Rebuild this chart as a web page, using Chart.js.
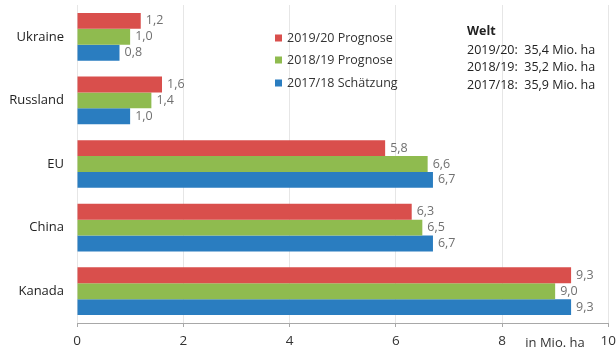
<!DOCTYPE html>
<html>
<head>
<meta charset="utf-8">
<script src="https://cdn.jsdelivr.net/npm/chart.js@4"></script>
<style>
  html, body { margin: 0; padding: 0; background: #fff; overflow: hidden; }
  #wrap { width: 622px; height: 354px; position: relative; }
</style>
</head>
<body>
<div id="wrap"><canvas id="chart"></canvas></div>
<script>
const countries = ["Ukraine", "Russland", "EU", "China", "Kanada"];
const seriesNames = ["2019/20 Prognose", "2018/19 Prognose", "2017/18 Schätzung"];
const values1920 = [1.2, 1.6, 5.8, 6.3, 9.3];
const values1819 = [1.0, 1.4, 6.6, 6.5, 9.0];
const values1718 = [0.8, 1.0, 6.7, 6.7, 9.3];
const xTicks = [0, 2, 4, 6, 8, 10];
const worldLines = ["2019/20:  35,4 Mio. ha", "2018/19:  35,2 Mio. ha", "2017/18:  35,9 Mio. ha"];

const colors = ["#d94f4c", "#8fbb4f", "#2a7dc0"];
const FONT = "'Open Sans', 'DejaVu Sans', sans-serif";

const valueLabels = {
  id: "valueLabels",
  afterDatasetsDraw(chart) {
    const ctx = chart.ctx;
    ctx.save();
    ctx.font = "12.5px " + FONT;
    ctx.fillStyle = "#707070";
    ctx.textAlign = "left";
    ctx.textBaseline = "middle";
    chart.data.datasets.forEach((ds, i) => {
      chart.getDatasetMeta(i).data.forEach((bar, j) => {
        const txt = ds.data[j].toFixed(1).replace(".", ",");
        ctx.fillText(txt, bar.x + 5, bar.y);
      });
    });
    ctx.restore();
  },
};

const extras = {
  id: "extras",
  afterDraw(chart) {
    const ctx = chart.ctx;
    ctx.save();
    // legend
    ctx.font = "12.5px " + FONT;
    ctx.textBaseline = "middle";
    ctx.textAlign = "left";
    const legendY = [38, 60, 83];
    seriesNames.forEach((name, i) => {
      ctx.fillStyle = colors[i];
      ctx.fillRect(275, legendY[i] - 3.5, 7, 7);
      ctx.fillStyle = "#333";
      ctx.fillText(name, 287, legendY[i]);
    });
    // world totals
    ctx.fillStyle = "#222";
    ctx.font = "bold 12.5px " + FONT;
    ctx.fillText("Welt", 467, 31);
    ctx.font = "12.5px " + FONT;
    worldLines.forEach((line, i) => {
      ctx.fillText(line, 467, 50 + i * 17.5);
    });
    // unit
    ctx.fillStyle = "#333";
    ctx.font = "13px " + FONT;
    ctx.textAlign = "center";
    ctx.fillText("in Mio. ha", 555, 343);
    ctx.restore();
  },
};

new Chart(document.getElementById("chart"), {
  type: "bar",
  data: {
    labels: countries,
    datasets: [values1920, values1819, values1718].map((d, i) => ({
      label: seriesNames[i],
      data: d,
      backgroundColor: colors[i],
      categoryPercentage: 0.75,
      barPercentage: 1.0,
    })),
  },
  options: {
    indexAxis: "y",
    responsive: true,
    maintainAspectRatio: false,
    animation: false,
    layout: { padding: { top: 5, left: 0, right: 0, bottom: 0 } },
    plugins: {
      legend: { display: false },
      tooltip: { enabled: false },
    },
    scales: {
      x: {
        min: 0,
        max: 10,
        afterBuildTicks(scale) {
          scale.ticks = xTicks.map((v) => ({ value: v }));
        },
        afterFit(scale) {
          scale.height = 31;
        },
        grid: { color: "#e6e6e6", tickColor: "#a8a8a8", tickLength: 4 },
        border: { color: "#a8a8a8" },
        ticks: {
          color: "#333",
          font: { family: FONT, size: 13.5 },
          padding: 6,
          maxRotation: 0,
        },
      },
      y: {
        // invisible tick marks give the gap between names and bars
        grid: { drawOnChartArea: false, color: "rgba(0,0,0,0)", tickLength: 13 },
        border: { display: false },
        afterFit(scale) {
          scale.width = 77;
        },
        ticks: {
          color: "#222",
          font: { family: FONT, size: 13, lineHeight: 0.1 },
          padding: 0,
        },
      },
    },
  },
  plugins: [valueLabels, extras],
});
</script>
</body>
</html>
